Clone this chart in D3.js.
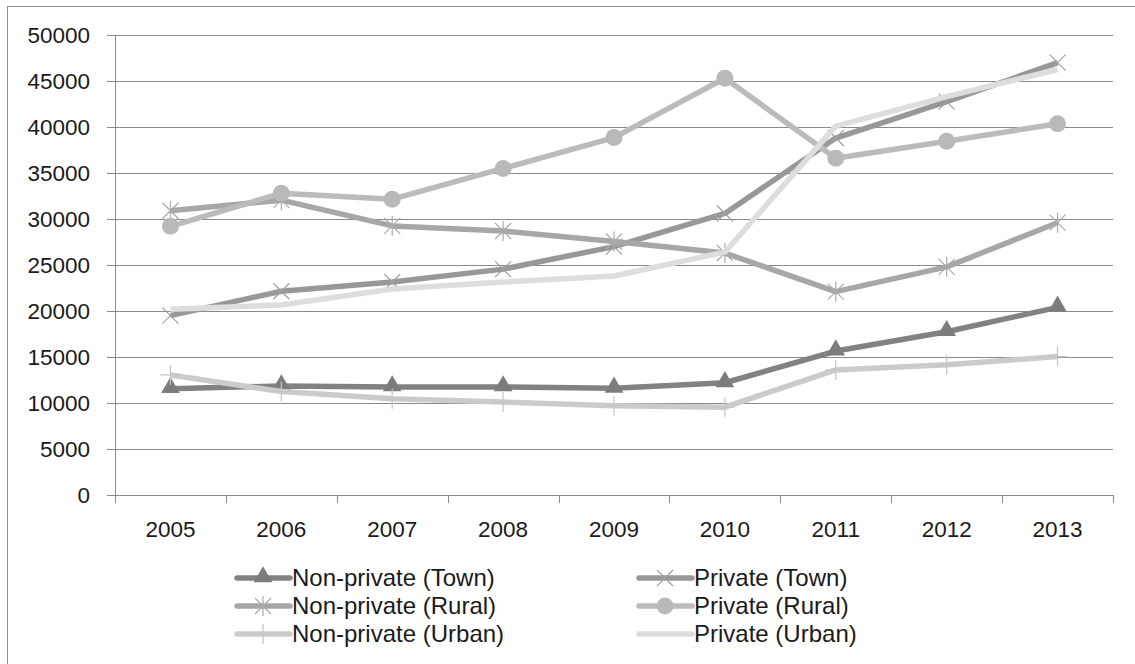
<!DOCTYPE html>
<html lang="en">
<head>
<meta charset="utf-8">
<style>
body {
  margin: 0;
  background: #fff;
  font-family: 'Liberation Sans', Arial, sans-serif;
}
.tick-label {
  font-size: 22.5px;
  fill: #1a1a1a;
}
.legend-text {
  font-size: 24px;
  fill: #1a1a1a;
}
</style>
<title>Private vs non-private</title>
<script src="https://cdn.jsdelivr.net/npm/d3@7/dist/d3.min.js"></script>
</head>
<body>
<div id="chart"></div>
<script type="text/javascript">

// values
var years = ["2005", "2006", "2007", "2008", "2009", "2010", "2011", "2012", "2013"];
var yTicks = [0, 5000, 10000, 15000, 20000, 25000, 30000, 35000, 40000, 45000, 50000];

var nonPrivateTown  = [11550, 11850, 11750, 11750, 11600, 12200, 15650, 17750, 20400];
var privateTown     = [19500, 22150, 23150, 24550, 27000, 30600, 38800, 42750, 47000];
var nonPrivateRural = [30900, 32050, 29250, 28700, 27550, 26300, 22100, 24800, 29600];
var privateRural    = [29200, 32800, 32150, 35500, 38850, 45300, 36600, 38450, 40350];
var nonPrivateUrban = [13050, 11250, 10450, 10100, 9700, 9550, 13600, 14150, 15050];
var privateUrban    = [20200, 20650, 22400, 23150, 23800, 26400, 40100, 43300, 46250];

var seriesNames = ["Non-private (Town)", "Private (Town)", "Non-private (Rural)",
                   "Private (Rural)", "Non-private (Urban)", "Private (Urban)"];
var seriesValues = [nonPrivateTown, privateTown, nonPrivateRural,
                    privateRural, nonPrivateUrban, privateUrban];

// look of each series
var seriesStyle = [
  {color: "#828282", marker: "triangle", mcolor: "#7c7c7c"},
  {color: "#989898", marker: "x",        mcolor: "#a0a0a0"},
  {color: "#a7a7a7", marker: "star",     mcolor: "#ababab"},
  {color: "#bbbbbb", marker: "circle",   mcolor: "#b9b9b9"},
  {color: "#cbcbcb", marker: "plus",     mcolor: "#c4c4c4"},
  {color: "#dddddd", marker: "none",     mcolor: "#dddddd"}
];

var W = 1135, H = 664;
var margin = {left: 115, right: 22, top: 35, bottom: 169};

var svg = d3.select("#chart").append("svg")
  .attr("width", W)
  .attr("height", H);

// outer chart border
svg.append("rect")
  .attr("x", 7.5).attr("y", 6.5)
  .attr("width", W).attr("height", H)
  .attr("fill", "none")
  .attr("stroke", "#8c8c8c")
  .attr("stroke-width", 1);

var x = d3.scaleBand()
  .domain(years)
  .range([margin.left, W - margin.right]);

var y = d3.scaleLinear()
  .domain([0, 50000])
  .range([H - margin.bottom, margin.top]);

var gridColor = "#8a8a8a";

// y axis with gridlines
var yAxis = svg.append("g")
  .attr("transform", "translate(" + margin.left + ",0)")
  .call(d3.axisLeft(y).tickValues(yTicks).tickFormat(d3.format("d")).tickSize(8).tickPadding(17));
yAxis.select(".domain").attr("stroke", gridColor);
yAxis.selectAll(".tick line").attr("stroke", gridColor);
yAxis.selectAll(".tick text")
  .attr("class", "tick-label")
  .attr("font-family", null).attr("font-size", null);
yAxis.attr("font-family", null).attr("font-size", null);

svg.append("g").selectAll("line")
  .data(yTicks.filter(function(d){ return d > 0; }))
  .enter().append("line")
  .attr("x1", margin.left)
  .attr("x2", W - margin.right)
  .attr("y1", function(d){ return Math.round(y(d)) + 0.5; })
  .attr("y2", function(d){ return Math.round(y(d)) + 0.5; })
  .attr("stroke", gridColor)
  .attr("stroke-width", 1);

// x axis: ticks between categories
var xAxisG = svg.append("g")
  .attr("transform", "translate(0," + (H - margin.bottom) + ")");
xAxisG.append("line")
  .attr("x1", margin.left).attr("x2", W - margin.right)
  .attr("y1", 0.5).attr("y2", 0.5)
  .attr("stroke", gridColor);
var edges = years.map(function(d){ return x(d); }).concat([x(years[years.length - 1]) + x.bandwidth()]);
xAxisG.selectAll(".xt")
  .data(edges)
  .enter().append("line")
  .attr("class", "xt")
  .attr("x1", function(d){ return Math.round(d) + 0.5; })
  .attr("x2", function(d){ return Math.round(d) + 0.5; })
  .attr("y1", 0).attr("y2", 8)
  .attr("stroke", gridColor);
xAxisG.selectAll("text")
  .data(years)
  .enter().append("text")
  .attr("class", "tick-label")
  .attr("x", function(d){ return x(d) + x.bandwidth() / 2; })
  .attr("y", 42)
  .attr("text-anchor", "middle")
  .text(function(d){ return d; });

function cx(i) { return x(years[i]) + x.bandwidth() / 2; }

function drawMarker(g, type, px, py, color) {
  var s = 8;
  if (type === "triangle") {
    g.append("path")
      .attr("d", d3.symbol(d3.symbolTriangle).size(150)())
      .attr("transform", "translate(" + px + "," + (py - 1) + ")")
      .attr("fill", color);
  } else if (type === "circle") {
    g.append("circle")
      .attr("cx", px).attr("cy", py).attr("r", 8.5)
      .attr("fill", color);
  } else if (type === "x" || type === "star") {
    g.append("path")
      .attr("d", "M" + (px - s) + "," + (py - s) + "L" + (px + s) + "," + (py + s) +
                 "M" + (px - s) + "," + (py + s) + "L" + (px + s) + "," + (py - s) +
                 (type === "star" ? "M" + px + "," + (py - s - 2) + "L" + px + "," + (py + s + 2) : ""))
      .attr("stroke", color)
      .attr("stroke-width", 1.2)
      .attr("fill", "none");
  } else if (type === "plus") {
    g.append("path")
      .attr("d", "M" + px + "," + (py - 10) + "L" + px + "," + (py + 10) +
                 "M" + (px - 10) + "," + py + "L" + (px + 10) + "," + py)
      .attr("stroke", color)
      .attr("stroke-width", 1.2)
      .attr("fill", "none");
  }
}

var line = d3.line()
  .x(function(d, i){ return cx(i); })
  .y(function(d){ return y(d); });

var plot = svg.append("g");
seriesValues.forEach(function(vals, k) {
  var st = seriesStyle[k];
  var g = plot.append("g");
  g.append("path")
    .datum(vals)
    .attr("d", line)
    .attr("fill", "none")
    .attr("stroke", st.color)
    .attr("stroke-width", 5.5)
    .attr("stroke-linejoin", "round");
  vals.forEach(function(v, i) {
    drawMarker(g, st.marker, cx(i), y(v), st.mcolor);
  });
});

// legend, two columns
var legendX = [237, 639];
var legendY = [578, 606, 634];
var legend = svg.append("g");
seriesNames.forEach(function(name, k) {
  var st = seriesStyle[k];
  var lx = legendX[k % 2], ly = legendY[Math.floor(k / 2)];
  var g = legend.append("g");
  g.append("line")
    .attr("x1", lx).attr("x2", lx + 53)
    .attr("y1", ly).attr("y2", ly)
    .attr("stroke", st.color)
    .attr("stroke-width", 5.5)
    .attr("stroke-linecap", "round");
  drawMarker(g, st.marker, lx + 26, ly, st.mcolor);
  g.append("text")
    .attr("class", "legend-text")
    .attr("x", lx + 55)
    .attr("y", ly)
    .attr("dy", "0.35em")
    .text(name);
});

</script>
</body>
</html>
